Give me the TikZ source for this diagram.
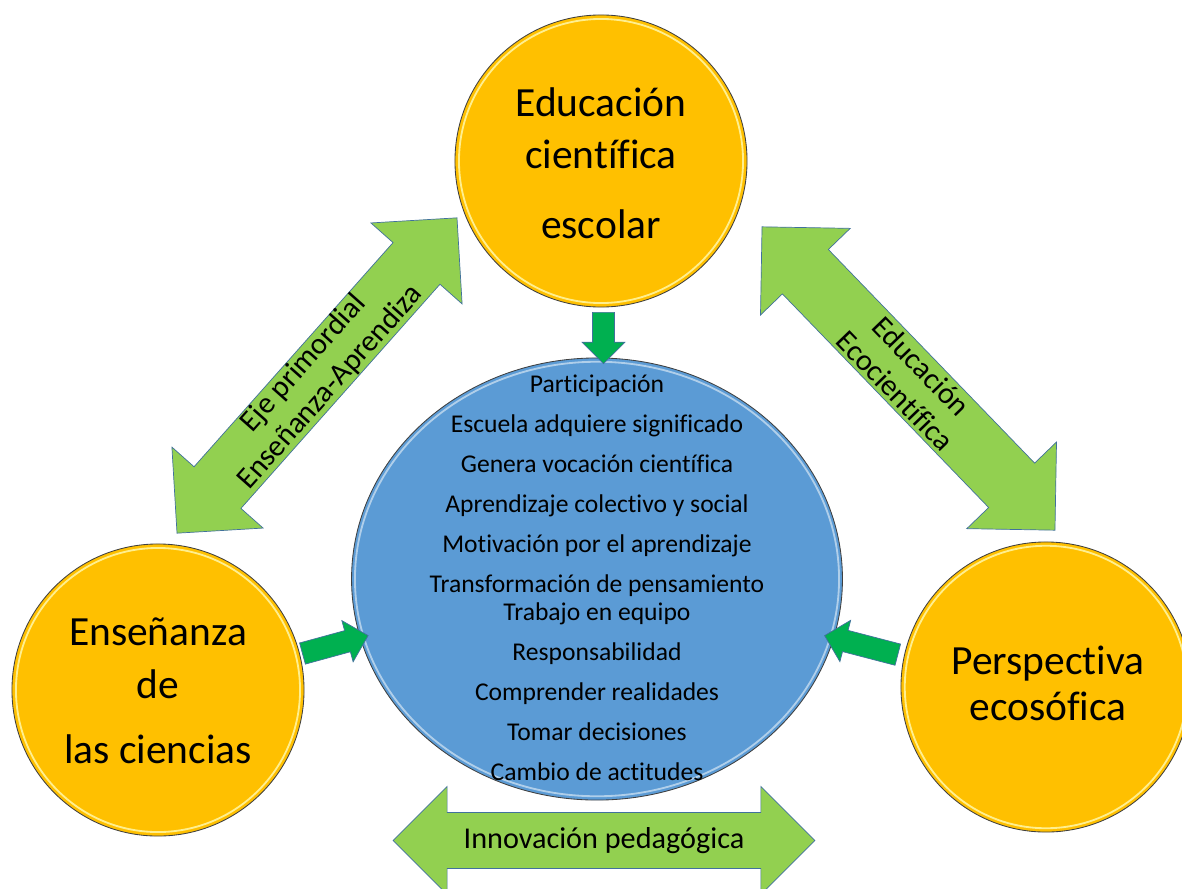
\documentclass[tikz,border=0pt]{standalone}
\usepackage{fontspec}
\setmainfont{Carlito}[Ligatures=NoCommon]
\usetikzlibrary{shapes.geometric,shapes.arrows}

\definecolor{naranja}{HTML}{FFC000}
\definecolor{azul}{HTML}{5B9BD5}
\definecolor{verdeclaro}{HTML}{92D050}
\definecolor{verde}{HTML}{00B050}
\definecolor{borde}{HTML}{41719C}

\tikzset{
  bola/.style={circle, fill=naranja, draw=black!75, line width=0.6pt, minimum size=7.3cm, inner sep=0pt},
  brillo/.style={draw=yellow!30!white, line width=1.3pt, opacity=0.8},
  textobola/.style={align=center, inner sep=0pt},
  flechota/.style={double arrow, fill=verdeclaro, draw=borde, line width=0.5pt, inner xsep=0pt, minimum height=10.54cm},
  flechita/.style={single arrow, fill=verde, draw=borde, line width=0.5pt, inner xsep=0pt, inner ysep=0.265cm, single arrow head extend=0.26cm},
  rotulo/.style={align=center, inner sep=0pt, font=\fontsize{21.5}{25.5}\selectfont},
}

\begin{document}
\begin{tikzpicture}[x=0.025cm,y=-0.025cm]
  \useasboundingbox (0,0) rectangle (1182,888);
  %% flechas grandes
  \node[flechota, inner ysep=0.775cm, double arrow head extend=0.74cm, rotate=48.4] (ejeflecha) at (317,375.5) {};
  \node[flechota, inner ysep=0.79cm, double arrow head extend=0.76cm, rotate=-46] (ecoflecha) at (908.5,378.5) {};
  \node[flechota, inner ysep=0.69cm, double arrow head extend=0.65cm] (innflecha) at (604,840.5) {};
  \node[rotulo, rotate=48.4] (ejetxt) at (ejeflecha) {Eje primordial\\Enseñanza-Aprendiza};
  \node[rotulo, rotate=-46] (ecotxt) at (ecoflecha) {Educación\\Ecocientífica};
  \node[rotulo] (inntxt) at (innflecha) {Innovación pedagógica};
  %% circulos
  \node[bola] (educacion) at (601,161) {};
  \node[bola] (ensenanza) at (158,690) {};
  \node[bola, minimum size=7.25cm] (perspectiva) at (1046,687) {};
  \draw[brillo] (educacion) circle[radius=3.55cm];
  \draw[brillo] (ensenanza) circle[radius=3.55cm];
  \draw[brillo] (perspectiva) circle[radius=3.53cm];
  \node[textobola, font=\fontsize{29.5}{37}\selectfont] (edutxt) at (601,163)
    {Educación\\científica\\[12.8pt]escolar};
  \node[textobola, font=\fontsize{29.5}{37.7}\selectfont] (enstxt) at (158,691)
    {Enseñanza\\de\\[8.5pt]las ciencias};
  \node[textobola, font=\fontsize{29.5}{32.7}\selectfont] (pertxt) at (1048,683)
    {Perspectiva\\ecosófica};
  %% elipse central
  \node[ellipse, fill=azul, draw=black!75, line width=0.6pt, minimum width=12.27cm, minimum height=11.05cm] (centro) at (597,579) {};
  \draw[draw=azul!35!white, line width=1.3pt, opacity=0.8] (centro) ellipse[x radius=6.05cm, y radius=5.43cm];
  \node[textobola, font=\fontsize{18.2}{28.45}\selectfont] (lista) at (597,578)
    {Participación\\Escuela adquiere significado\\Genera vocación científica\\
     Aprendizaje colectivo y social\\Motivación por el aprendizaje\\
     Transformación de pensamiento\\[-8.5pt]Trabajo en equipo\\Responsabilidad\\
     Comprender realidades\\Tomar decisiones\\Cambio de actitudes};
  %% flechas pequenas
  \node[flechita, minimum height=1.28cm, rotate=-90] (baja) at (603.5,332.5) {};
  \node[flechita, minimum height=1.7cm, rotate=15.3] (izq) at (330,646) {};
  \node[flechita, minimum height=1.89cm, rotate=165.4] (der) at (866.5,646.5) {};
\end{tikzpicture}
\end{document}
